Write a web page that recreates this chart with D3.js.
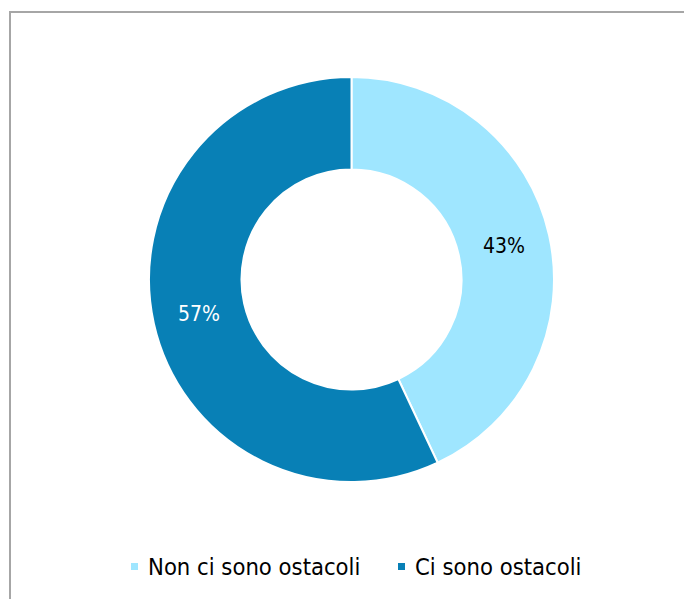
<!DOCTYPE html>
<html><head><meta charset="utf-8">
<script src="https://cdn.jsdelivr.net/npm/d3@7"></script>
<style>html,body{margin:0;padding:0;background:#fff;}</style>
</head><body>
<svg id="c" width="684" height="599"></svg>
<script>
const categories = ["Non ci sono ostacoli", "Ci sono ostacoli"];
const values = [43, 57];
const labels = ["43%", "57%"];
const colors = ["#9FE6FF", "#0880B6"];
const labelColors = ["#000000", "#ffffff"];

const svg = d3.select("#c");
const font = "'DejaVu Sans Condensed', 'DejaVu Sans', sans-serif";

// frame
svg.append("rect").attr("x", 10).attr("y", 12).attr("width", 700).attr("height", 620)
  .attr("fill", "#fff").attr("stroke", "#A6A6A6").attr("stroke-width", 2);

const cx = 351.5, cy = 279.5, rOuter = 202.5, rInner = 110;
const pie = d3.pie().sort(null).value(d => d);
const arc = d3.arc().innerRadius(rInner).outerRadius(rOuter);
const g = svg.append("g").attr("transform", `translate(${cx},${cy})`);
const arcs = pie(values);
g.selectAll("path").data(arcs).enter().append("path")
  .attr("d", arc).attr("fill", (d, i) => colors[i])
  .attr("stroke", "#fff").attr("stroke-width", 2);
g.selectAll("text").data(arcs).enter().append("text")
  .attr("transform", d => `translate(${arc.centroid(d)})`)
  .attr("text-anchor", "middle").attr("dy", "0.35em")
  .attr("font-family", font).attr("font-size", 21)
  .attr("fill", (d, i) => labelColors[i]).text((d, i) => labels[i]);

// legend
const leg = svg.append("g");
const legX = [131, 398];
categories.forEach((c, i) => {
  leg.append("rect").attr("x", legX[i]).attr("y", 563).attr("width", 7).attr("height", 7).attr("fill", colors[i]);
  leg.append("text").attr("x", legX[i] + 17).attr("y", 567).attr("dy", "0.35em")
    .attr("font-family", font).attr("font-size", 23.6).attr("fill", "#000").text(c);
});
</script>
</body></html>
